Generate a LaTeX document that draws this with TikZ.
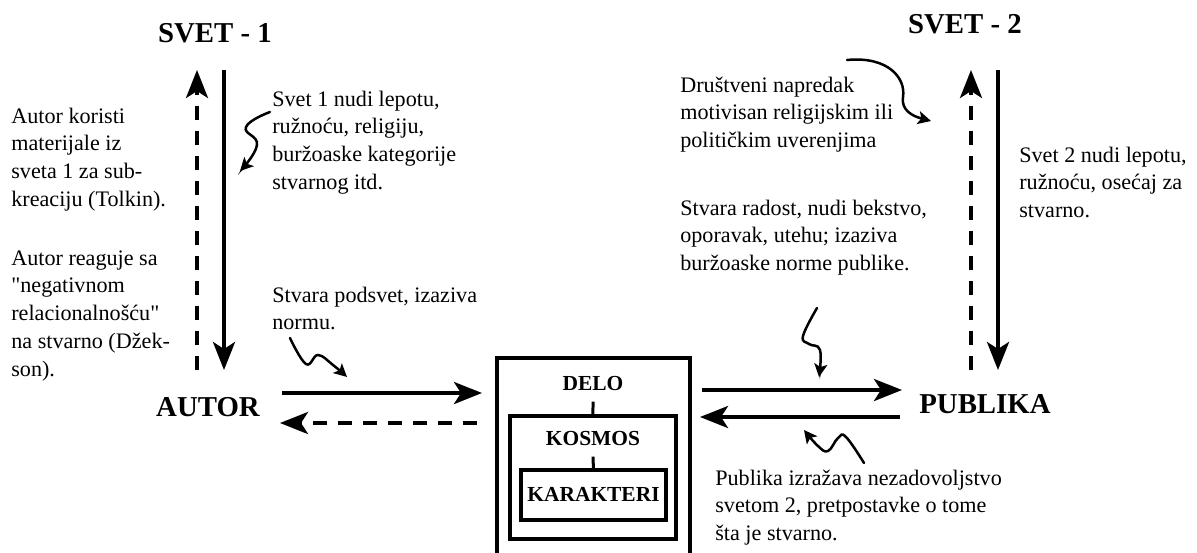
\documentclass[tikz,border=0pt]{standalone}
\usepackage{fontspec}
\setmainfont{Liberation Serif}
\usetikzlibrary{arrows.meta}
% multi-line text whose baseline is that of its first line
\newcommand{\blk}[1]{\begin{tabular}[t]{@{}l@{}}#1\end{tabular}}
\begin{document}
\begin{tikzpicture}[x=0.02cm,y=-0.02cm,
  body/.style={anchor=base west, inner sep=0pt, font=\rmfamily\fontsize{12.6pt}{15.9pt}\selectfont},
  title/.style={anchor=base, inner sep=0pt, font=\rmfamily\fontsize{16.4pt}{20pt}\selectfont\bfseries},
  boxlabel/.style={anchor=base, inner xsep=0pt, inner ysep=0.22cm, font=\rmfamily\fontsize{12.2pt}{14pt}\selectfont\bfseries},
  frame/.style={draw, line width=0.08cm, inner sep=0pt, outer sep=0pt, anchor=north west},
  flow/.style={line width=0.08cm, -{Stealth[length=0.56cm,width=0.44cm,inset=0.14cm]}},
  back/.style={flow, dash pattern=on 0.28cm off 0.22cm},
  squig/.style={line width=0.05cm, line cap=round, -{Stealth[length=0.26cm,width=0.26cm,inset=0.06cm]}},
  link/.style={line width=0.06cm}]
\useasboundingbox (0,0) rectangle (1197,552);
\clip (0,0) rectangle (1197,552);

% titles
\node[title] (svet1) at (215,42) {SVET - 1};
\node[title] (svet2) at (965,33) {SVET - 2};
\node[title] (autor) at (208,416) {AUTOR};
\node[title] (publika) at (985,413) {PUBLIKA};

% the work: nested frames
\node[frame, minimum width=3.86cm, minimum height=4.3cm] (delobox) at (497,358) {};
\node[frame, minimum width=3.32cm, minimum height=2.46cm] (kosmosbox) at (510,416) {};
\node[frame, minimum width=2.9cm, minimum height=1.0cm] (karbox) at (521,470) {};
\node[boxlabel] (delo) at (593,390) {DELO};
\node[boxlabel] (kosmos) at (593,445) {KOSMOS};
\node[boxlabel, inner ysep=0pt] (karakteri) at (593.5,501) {KARAKTERI};
\draw[link] (delo.south) -- (kosmosbox.north);
\draw[link] (kosmos.south) -- (karbox.north);

% explanatory texts
\node[body] (t1) at (11,123) {\blk{Autor koristi\\materijale iz\\sveta 1 za sub-\\kreaciju (Tolkin).}};
\node[body] (t2) at (11,265) {\blk{Autor reaguje sa\\\textquotedbl negativnom\\relacionalnošću\textquotedbl\\na stvarno (Džek-\\son).}};
\node[body] (t3) at (272,106) {\blk{Svet 1 nudi lepotu,\\ružnoću, religiju,\\buržoaske kategorije\\stvarnog itd.}};
\node[body] (t4) at (272,302) {\blk{Stvara podsvet, izaziva\\normu.}};
\node[body] (t5) at (680,92) {\blk{Društveni napredak\\motivisan religijskim ili\\političkim uverenjima}};
\node[body] (t6) at (680,215) {\blk{Stvara radost, nudi bekstvo,\\oporavak, utehu; izaziva\\buržoaske norme publike.}};
\node[body] (t7) at (1019,162) {\blk{Svet 2 nudi lepotu,\\ružnoću, osećaj za\\stvarno.}};
\node[body] (t8) at (715,485) {\blk{Publika izražava nezadovoljstvo\\svetom 2, pretpostavke o tome\\šta je stvarno.}};

% arrow end points
\coordinate (l1) at (197,370); \coordinate (l2) at (197,70);
\coordinate (l3) at (224,70);  \coordinate (l4) at (224,370);
\coordinate (r1) at (971,370); \coordinate (r2) at (971,70);
\coordinate (r3) at (998,70);  \coordinate (r4) at (998,370);
\coordinate (h1) at (282,393); \coordinate (h2) at (482,393);
\coordinate (h3) at (477,423); \coordinate (h4) at (280,423);
\coordinate (h5) at (702,390); \coordinate (h6) at (902,390);
\coordinate (h7) at (900,417); \coordinate (h8) at (700,417);

% main flows
\draw[back] (l1) -- (l2);
\draw[flow] (l3) -- (l4);
\draw[back] (r1) -- (r2);
\draw[flow] (r3) -- (r4);
\draw[flow] (h1) -- (h2);
\draw[back] (h3) -- (h4);
\draw[flow] (h5) -- (h6);
\draw[flow] (h7) -- (h8);

% squiggly pointers
\draw[squig] plot[smooth, tension=0.8] coordinates {(270,112) (246,127) (257,145) (240,171)};
\draw[squig] plot[smooth, tension=0.7] coordinates {(290,338) (306,364) (318,355) (333,365) (347,377)};
\draw[squig] (847,60) .. controls (888,56) and (906,78) .. (903,97) .. controls (901,110) and (912,116) .. (931,121);
\draw[squig] plot[smooth, tension=0.7] coordinates {(817,308) (803,336) (809,344) (820,350) (819,377)};
\draw[squig] plot[smooth, tension=0.7] coordinates {(864,463) (846,437) (838,438) (828,451) (818,446) (804,430)};
\end{tikzpicture}
\end{document}
